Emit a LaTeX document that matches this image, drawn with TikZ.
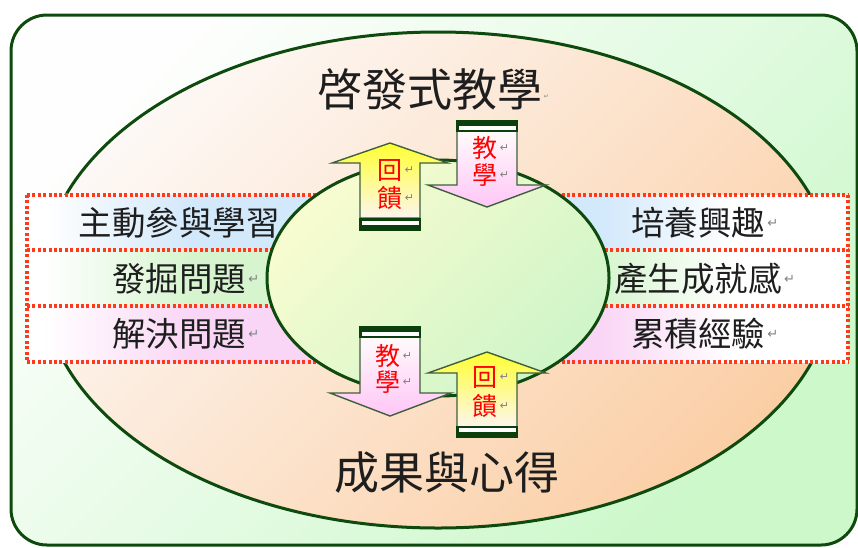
\documentclass[tikz,border=0pt]{standalone}
\usepackage{fontspec}
\usepackage{graphicx}
\newfontfamily\cjk{Noto Sans CJK TC}
\newfontfamily\dvs{DejaVu Sans}
\definecolor{dkg}{HTML}{0E4A0E}
\definecolor{barg}{HTML}{0B3F0B}
\definecolor{arrline}{HTML}{3E5F3E}
\definecolor{rowred}{HTML}{FF3A1A}
\definecolor{txt}{HTML}{1E1E1E}
\definecolor{outerA}{HTML}{FDFEFD}
\definecolor{outerB}{HTML}{CCF8CA}
\definecolor{ellA}{HTML}{FDF8F5}
\definecolor{ellM}{HTML}{FDE3DC}
\definecolor{ellB}{HTML}{FBCFA6}
\definecolor{inA}{HTML}{F8FCD0}
\definecolor{inB}{HTML}{CFF5C8}
\definecolor{rowblue}{HTML}{D2E8FB}
\definecolor{rowgreen}{HTML}{D6F5CF}
\definecolor{rowpink}{HTML}{F9D6F5}
\definecolor{yelA}{HTML}{FFFF30}
\definecolor{yelM}{HTML}{F2F8C0}
\definecolor{yelB}{HTML}{FDF5EE}
\definecolor{pinkA}{HTML}{FFFBFB}
\definecolor{pinkM}{HTML}{FDE0EC}
\definecolor{pinkB}{HTML}{FFC6F6}
\pgfdeclarehorizontalshading{rowshadeA}{100bp}{color(0bp)=(white); color(26bp)=(white); color(35bp)=(rowblue); color(60bp)=(rowblue); color(68bp)=(white); color(100bp)=(white)}
\pgfdeclarehorizontalshading{rowshadeB}{100bp}{color(0bp)=(white); color(26bp)=(white); color(35bp)=(rowgreen); color(60bp)=(rowgreen); color(68bp)=(white); color(100bp)=(white)}
\pgfdeclarehorizontalshading{rowshadeC}{100bp}{color(0bp)=(white); color(26bp)=(white); color(35bp)=(rowpink); color(60bp)=(rowpink); color(68bp)=(white); color(100bp)=(white)}
\begin{document}
\begin{tikzpicture}[x=1pt,y=-1pt,
  frame/.style={draw=dkg,line width=3pt},
  rowline/.style={draw=rowred,line width=3.3pt,dash pattern=on 3pt off 2.4pt},
  rowtxt/.style={font=\cjk\fontsize{33.5}{36}\selectfont,inner sep=0pt,text=txt},
  titletxt/.style={font=\cjk\fontsize{45}{48}\selectfont,inner sep=0pt,text=txt},
  retmark/.style={font=\dvs\fontsize{13}{14}\selectfont,text=gray,inner sep=0pt,anchor=west},
  smallret/.style={font=\dvs\fontsize{11}{12}\selectfont,text=gray,inner sep=0pt,anchor=west},
  arrtxt/.style={font=\cjk\fontsize{25}{27}\selectfont,text=red,inner sep=0pt},
  uparrow/.style={draw=arrline,line width=1.4pt,top color=yelA,middle color=yelM,bottom color=yelB},
  downarrow/.style={draw=arrline,line width=1.4pt,top color=pinkA,middle color=pinkM,bottom color=pinkB},
  bardark/.style={fill=barg},
  barwhite/.style={fill=white}]
\useasboundingbox (0,0) rectangle (858,547);

% outer frame
\draw[frame,rounded corners=36pt,top color=outerA,bottom color=outerB,shading angle=45]
  (11,15) rectangle (857,545);

% big ellipse
\draw[frame,top color=ellA,middle color=ellM,bottom color=ellB,shading angle=45]
  (438,280) ellipse [x radius=396pt,y radius=248pt];

% rows
\path[shading=rowshadeA] (27,195) rectangle (848,250);
\path[shading=rowshadeB] (27,250) rectangle (848,306);
\path[shading=rowshadeC] (27,306) rectangle (848,362);
\foreach \yy in {195,250,306,362} \draw[rowline] (27,\yy) -- (848,\yy);
\draw[rowline] (27,195) -- (27,362);
\draw[rowline] (848,195) -- (848,362);

% row texts
\node[rowtxt] (l1) at (179,223) {主動參與學習};
\node[rowtxt] (l2) at (179,279) {發掘問題};
\node[retmark] (l2r) at ([xshift=2pt]l2.east) {↵};
\node[rowtxt] (l3) at (179,334) {解決問題};
\node[retmark] (l3r) at ([xshift=2pt]l3.east) {↵};
\node[rowtxt] (r1) at (698,223) {培養興趣};
\node[retmark] (r1r) at ([xshift=2pt]r1.east) {↵};
\node[rowtxt] (r2) at (698,279) {產生成就感};
\node[retmark] (r2r) at ([xshift=2pt]r2.east) {↵};
\node[rowtxt] (r3) at (698,334) {累積經驗};
\node[retmark] (r3r) at ([xshift=2pt]r3.east) {↵};

% inner ellipse
\draw[frame,top color=inA,bottom color=inB,shading angle=45]
  (438,278) ellipse [x radius=171pt,y radius=118pt];

% titles
\node[titletxt] (top) at (430,89) {啓發式教學};
\node[font=\dvs\fontsize{6}{7}\selectfont,text=gray,inner sep=0pt,anchor=west] (topr) at ([xshift=1pt,yshift=-8pt]top.east) {↵};
\node[titletxt] (bot) at (447,473) {成果與心得};

% ---- top pair ----
% up arrow (feedback), centre x 390
\draw[uparrow] (390,143) -- (448,163) -- (420,163) -- (420,218) -- (360,218) -- (360,163) -- (332,163) -- cycle;
\fill[bardark] (359,218) rectangle (421,231);
\fill[barwhite] (361.5,220.5) rectangle (418.5,224.8);
\node[arrtxt] (fb1a) at (390,170) {回};
\node[smallret] at ([xshift=2pt]fb1a.east) {↵};
\node[arrtxt] (fb1b) at (390,198) {饋};
\node[smallret] at ([xshift=2pt]fb1b.east) {↵};

% down arrow (teaching), centre x 487
\draw[downarrow] (457,131) -- (517,131) -- (517,185) -- (546,185) -- (487,207) -- (428,185) -- (457,185) -- cycle;
\fill[bardark] (456,120) rectangle (518,132);
\fill[barwhite] (458.5,126.3) rectangle (515.5,129.8);
\node[arrtxt] (te1a) at (485,148.5) {教};
\node[smallret] at ([xshift=2pt]te1a.east) {↵};
\node[arrtxt] (te1b) at (485,175) {學};
\node[smallret] at ([xshift=2pt]te1b.east) {↵};

% ---- bottom pair ----
% down arrow (teaching), centre x 390
\draw[downarrow] (360,337) -- (420,337) -- (420,393) -- (451,393) -- (390,416) -- (330,393) -- (360,393) -- cycle;
\fill[bardark] (359,326) rectangle (421,338);
\fill[barwhite] (361.5,332.3) rectangle (418.5,335.8);
\node[arrtxt] (te2a) at (388,356) {教};
\node[smallret] at ([xshift=2pt]te2a.east) {↵};
\node[arrtxt] (te2b) at (388,382) {學};
\node[smallret] at ([xshift=2pt]te2b.east) {↵};

% up arrow (feedback), centre x 487
\draw[uparrow] (487,352) -- (546,373) -- (517,373) -- (517,427) -- (457,427) -- (457,373) -- (428,373) -- cycle;
\fill[bardark] (456,426) rectangle (518,438);
\fill[barwhite] (458.5,428.3) rectangle (515.5,432.3);
\node[arrtxt] (fb2a) at (485,377) {回};
\node[smallret] at ([xshift=2pt]fb2a.east) {↵};
\node[arrtxt] (fb2b) at (485,406) {饋};
\node[smallret] at ([xshift=2pt]fb2b.east) {↵};
\end{tikzpicture}
\end{document}
